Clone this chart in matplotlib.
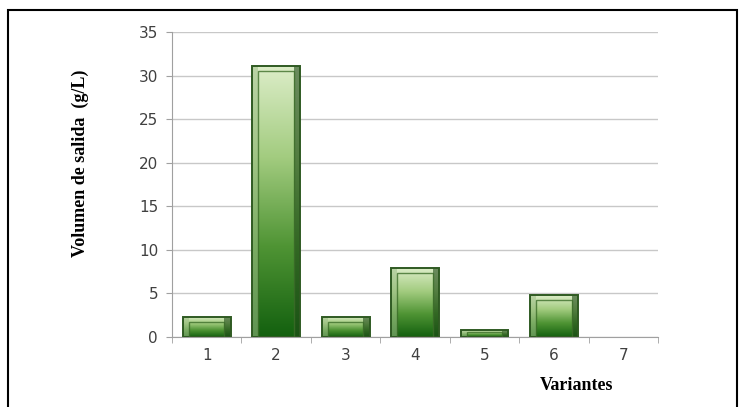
import numpy as np
import matplotlib.pyplot as plt
from matplotlib.patches import Rectangle
from matplotlib.colors import LinearSegmentedColormap

# datos
variantes = ['1', '2', '3', '4', '5', '6', '7']
volumen = [2.3, 31.1, 2.3, 7.9, 0.8, 4.8, 0.0]

fig = plt.figure(figsize=(7.4, 4.07), dpi=100)
ax = fig.add_axes([0.2324, 0.172, 0.657, 0.749])

# marco exterior
fig.patches.append(Rectangle((8 / 740, -0.2), 729 / 740, 1.2 - 10 / 407,
                             transform=fig.transFigure, fill=False,
                             edgecolor='black', linewidth=1.5))

x = np.arange(len(variantes))
width = 0.69
cmap = LinearSegmentedColormap.from_list('verde', ['#13600f', '#4f9434', '#a3cc80', '#dcedc8'])
grad = np.linspace(0, 1, 256).reshape(-1, 1)

edges = ['#2f5a22' if v > 0 else 'none' for v in volumen]
bars = ax.bar(x, volumen, width=width, color='none', edgecolor=edges, linewidth=1.4, zorder=3)
for b, v in zip(bars, volumen):
    if v <= 0:
        continue
    x0, w = b.get_x(), b.get_width()
    im = ax.imshow(grad, extent=[x0, x0 + w, 0, v], origin='lower', cmap=cmap,
                   aspect='auto', zorder=2)
    im.set_clip_path(b)
    # bisel
    inset = 0.09
    dy = min(0.6, v * 0.25)
    ax.add_patch(Rectangle((x0 + inset, 0), w - 2 * inset, v - dy, fill=False,
                           edgecolor='#3d6e2a', linewidth=1.0, alpha=0.8, zorder=4))
    ax.add_patch(Rectangle((x0, 0), inset, v, color='#9fbf8a', alpha=0.55, zorder=2.5, lw=0))
    ax.add_patch(Rectangle((x0 + w - inset, 0), inset, v, color='#1f4a18', alpha=0.6, zorder=2.5, lw=0))

ax.set_xlim(-0.5, len(variantes) - 0.5)
ax.set_ylim(0, 35)
ax.set_yticks(range(0, 36, 5))
ax.set_xticks(x)
ax.set_xticklabels(variantes)
ax.set_xticks(np.arange(-0.5, len(variantes), 1), minor=True)
ax.tick_params(axis='x', which='major', length=0, pad=8, labelsize=11, labelcolor='#404040')
ax.tick_params(axis='x', which='minor', length=4, color='#a0a0a0')
ax.tick_params(axis='y', length=4, color='#a0a0a0', labelsize=11, labelcolor='#404040', pad=6)
ax.grid(axis='y', color='#c8c8c8', linewidth=1.0, zorder=0)
ax.set_axisbelow(True)
for s in ['top', 'right']:
    ax.spines[s].set_visible(False)
for s in ['left', 'bottom']:
    ax.spines[s].set_color('#a0a0a0')

ax.set_ylabel('Volumen de salida  (g/L)', fontfamily='Liberation Serif',
              fontweight='bold', fontsize=13, va='center')
ax.yaxis.set_label_coords(-0.189, 0.57)
fig.text(577 / 740, 1 - 385 / 407, 'Variantes', fontfamily='Liberation Serif',
         fontweight='bold', fontsize=13, ha='center', va='center')

plt.savefig('out.png', dpi=100)
